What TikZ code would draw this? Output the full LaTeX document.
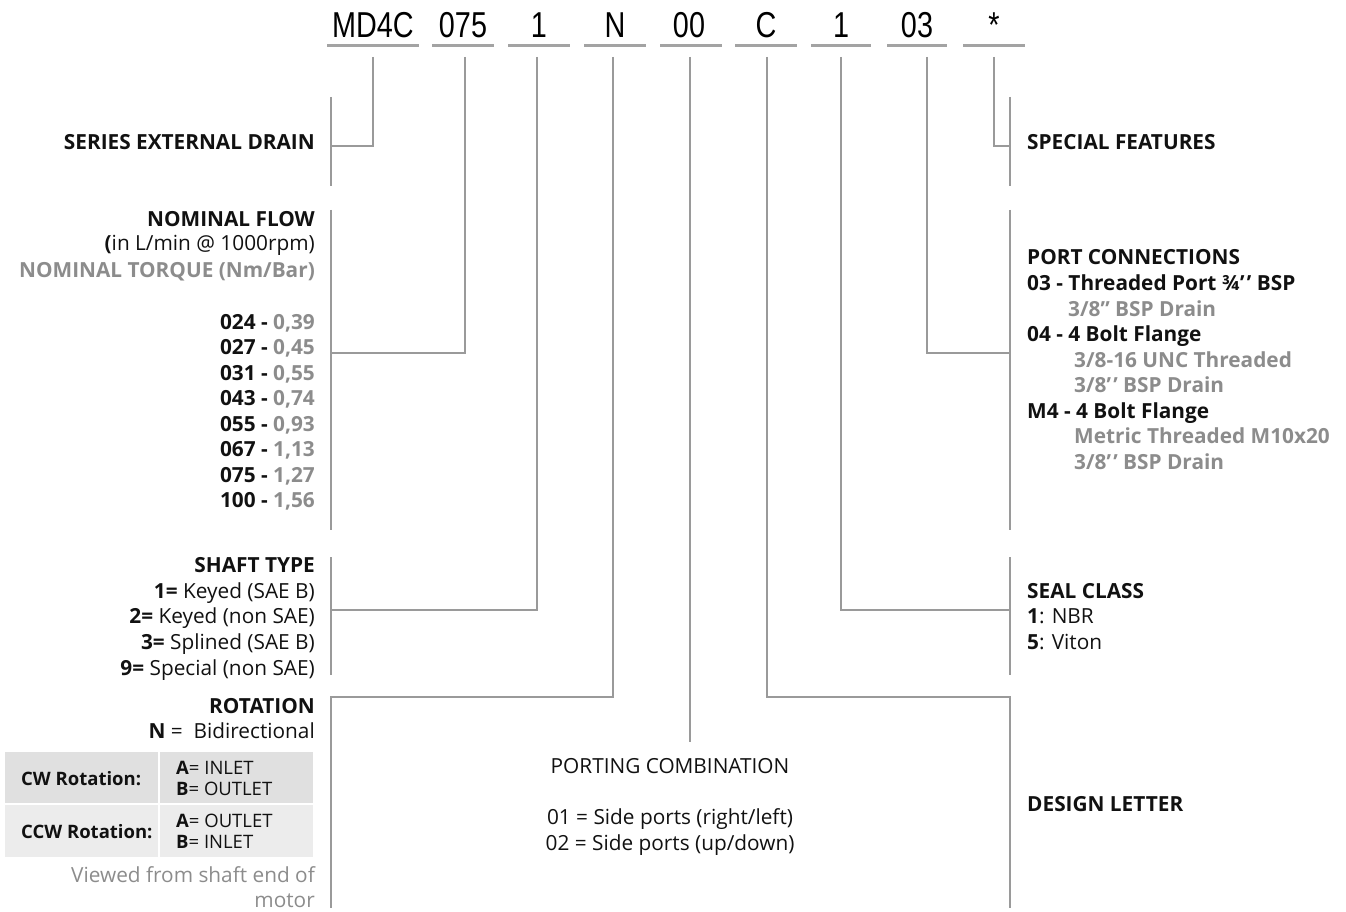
\documentclass[tikz,border=0pt]{standalone}
\usepackage{fontspec}
\setmainfont{Open Sans}
\newfontfamily\codefont{Liberation Sans}
\definecolor{linegray}{HTML}{9A9A9A}
\definecolor{ulgray}{HTML}{A3A3A3}
\definecolor{txtgray}{HTML}{8C8C8C}
\definecolor{txtblack}{HTML}{111111}
\definecolor{rowA}{HTML}{E0E0E0}
\definecolor{rowB}{HTML}{ECECEC}
\newcommand{\fsmain}{\fontsize{20.8}{25.6}\selectfont}
\newcommand{\fstab}{\fontsize{18.5}{21}\selectfont}
\newcommand{\fscode}{\codefont\fontsize{36}{36}\selectfont}
\newcommand{\cd}[1]{\scalebox{0.8}[1]{#1}}
\newcommand{\dq}{’\kern2.2pt’}
\tikzset{
  lt/.style={anchor=base east, inner sep=0pt, font=\fsmain, text=txtblack},
  rt/.style={anchor=base west, inner sep=0pt, font=\fsmain, text=txtblack},
  ct/.style={anchor=base, inner sep=0pt, font=\fsmain, text=txtblack},
  tb/.style={anchor=base west, inner sep=0pt, font=\fstab, text=txtblack},
  codetxt/.style={anchor=base, inner sep=0pt, font=\fscode, text=black},
  conn/.style={draw=linegray, line width=2pt},
  uline/.style={draw=ulgray, line width=3pt},
  gr/.style={text=txtgray},
}
\begin{document}
\begin{tikzpicture}[x=1pt,y=-1pt]
\useasboundingbox (0,0) rectangle (1346,912);
% ---------- code row ----------
\foreach \nm/\xa/\xb/\xc/\tx in {
  cMD/327/419/373/MD4C, cFl/432/494/463/075, cSh/508/570/539/1, cRo/584/646/615/N,
  cPo/660/722/689/00, cDe/735/797/766/C, cSe/811/871/841/1, cPc/887/947/917/03, cSp/963/1025/994/*}{
  \node[codetxt] (\nm) at (\xc,38) {\cd{\tx}};
  \coordinate (\nm L) at (\xa,46);
  \coordinate (\nm R) at (\xb,46);
  \draw[uline] (\nm L) -- (\nm R);
}
% line starts under each code
\coordinate (sMD) at (373,57);
\coordinate (sFl) at (465,57);
\coordinate (sSh) at (537,57);
\coordinate (sRo) at (613,57);
\coordinate (sPo) at (690,57);
\coordinate (sDe) at (767,57);
\coordinate (sSe) at (841,57);
\coordinate (sPc) at (927,57);
\coordinate (sSp) at (994,57);
% ---------- left brackets ----------
\coordinate (bSERt) at (331,97);  \coordinate (bSERb) at (331,186); \coordinate (bSERm) at (331,146);
\coordinate (bFLt) at (331,210);  \coordinate (bFLb) at (331,530);  \coordinate (bFLm) at (331,353);
\coordinate (bSHt) at (331,557);  \coordinate (bSHb) at (331,675);  \coordinate (bSHm) at (331,610);
\coordinate (bROm) at (331,697);  \coordinate (bROb) at (331,908);
% ---------- right brackets ----------
\coordinate (bSPt) at (1010,97);  \coordinate (bSPb) at (1010,186); \coordinate (bSPm) at (1010,146);
\coordinate (bPCt) at (1010,210); \coordinate (bPCb) at (1010,530); \coordinate (bPCm) at (1010,353);
\coordinate (bSEt) at (1010,557); \coordinate (bSEb) at (1010,675); \coordinate (bSEm) at (1010,610);
\coordinate (bDEm) at (1010,697); \coordinate (bDEb) at (1010,908);
\coordinate (ePO) at (690,742);
\draw[conn] (bSERt) -- (bSERb);
\draw[conn] (bFLt) -- (bFLb);
\draw[conn] (bSHt) -- (bSHb);
\draw[conn] (bSPt) -- (bSPb);
\draw[conn] (bPCt) -- (bPCb);
\draw[conn] (bSEt) -- (bSEb);
% connectors
\draw[conn] (sMD) |- (bSERm);
\draw[conn] (sFl) |- (bFLm);
\draw[conn] (sSh) |- (bSHm);
\draw[conn] (sRo) |- (bROm) -- (bROb);
\draw[conn] (sPo) -- (ePO);
\draw[conn] (sDe) |- (bDEm) -- (bDEb);
\draw[conn] (sSe) |- (bSEm);
\draw[conn] (sPc) |- (bPCm);
\draw[conn] (sSp) |- (bSPm);
% ---------- left texts ----------
\node[lt] (tSER) at (315,150) {\bfseries SERIES EXTERNAL DRAIN};
\node[lt] (tNF1) at (315,226) {\bfseries NOMINAL FLOW};
\node[lt] (tNF2) at (315,251) {\textbf{(}in L/min @ 1000rpm)};
\node[lt,gr] (tNF3) at (315,277) {\bfseries NOMINAL TORQUE (Nm/Bar)};
\node[lt] (tF0) at (315,329) {\bfseries 024 - \textcolor{txtgray}{0,39}};
\node[lt] (tF1) at (315,354) {\bfseries 027 - \textcolor{txtgray}{0,45}};
\node[lt] (tF2) at (315,380) {\bfseries 031 - \textcolor{txtgray}{0,55}};
\node[lt] (tF3) at (315,405) {\bfseries 043 - \textcolor{txtgray}{0,74}};
\node[lt] (tF4) at (315,431) {\bfseries 055 - \textcolor{txtgray}{0,93}};
\node[lt] (tF5) at (315,456) {\bfseries 067 - \textcolor{txtgray}{1,13}};
\node[lt] (tF6) at (315,482) {\bfseries 075 - \textcolor{txtgray}{1,27}};
\node[lt] (tF7) at (315,507) {\bfseries 100 - \textcolor{txtgray}{1,56}};
\node[lt] (tSH0) at (315,572) {\bfseries SHAFT TYPE};
\node[lt] (tSH1) at (315,598) {\textbf{1=} Keyed (SAE B)};
\node[lt] (tSH2) at (315,623) {\textbf{2=} Keyed (non SAE)};
\node[lt] (tSH3) at (315,649) {\textbf{3=} Splined (SAE B)};
\node[lt] (tSH4) at (315,675) {\textbf{9=} Special (non SAE)};
\node[lt] (tRO0) at (315,713) {\bfseries ROTATION};
\node[lt] (tRO1) at (315,738) {\textbf{N} =\ \ Bidirectional};
% table
\fill[rowA] (5,752) rectangle (313,804);
\fill[rowB] (5,804) rectangle (313,857);
\draw[white, line width=2pt] (5,804) -- (313,804);
\draw[white, line width=2pt] (159,752) -- (159,857);
\node[tb] (tCW) at (21,785) {\bfseries CW Rotation:};
\node[tb] (tCWa) at (176,774) {\textbf{A}= INLET};
\node[tb] (tCWb) at (176,795) {\textbf{B}= OUTLET};
\node[tb] (tCCW) at (21,838) {\bfseries CCW Rotation:};
\node[tb] (tCCa) at (176,827) {\textbf{A}= OUTLET};
\node[tb] (tCCb) at (176,848) {\textbf{B}= INLET};
\node[lt,gr] (tV1) at (315,882) {Viewed from shaft end of};
\node[lt,gr] (tV2) at (315,907) {motor};
% ---------- right texts ----------
\node[rt] (tSP) at (1027,150) {\bfseries SPECIAL FEATURES};
\node[rt] (tPC0) at (1027,264) {\bfseries PORT CONNECTIONS};
\node[rt] (tPC1) at (1027,290) {\bfseries 03 - Threaded Port ¾\dq{} BSP};
\node[rt,gr] (tPC2) at (1068,316) {\bfseries 3/8” BSP Drain};
\node[rt] (tPC3) at (1027,341) {\bfseries 04 - 4 Bolt Flange};
\node[rt,gr] (tPC4) at (1074,367) {\bfseries 3/8-16 UNC Threaded};
\node[rt,gr] (tPC5) at (1074,392) {\bfseries 3/8\dq{} BSP Drain};
\node[rt] (tPC6) at (1027,418) {\bfseries M4 - 4 Bolt Flange};
\node[rt,gr] (tPC7) at (1074,443) {\bfseries Metric Threaded M10x20};
\node[rt,gr] (tPC8) at (1074,469) {\bfseries 3/8\dq{} BSP Drain};
\node[rt] (tSE0) at (1027,598) {\bfseries SEAL CLASS};
\node[rt] (tSE1) at (1027,623) {\textbf{1}: NBR};
\node[rt] (tSE2) at (1027,649) {\textbf{5}: Viton};
\node[rt] (tDE) at (1027,811) {\bfseries DESIGN LETTER};
% ---------- centre ----------
\node[ct] (tPO0) at (670,773) {PORTING COMBINATION};
\node[ct] (tPO1) at (670,824) {01 = Side ports (right/left)};
\node[ct] (tPO2) at (670,850) {02 = Side ports (up/down)};
\end{tikzpicture}
\end{document}
